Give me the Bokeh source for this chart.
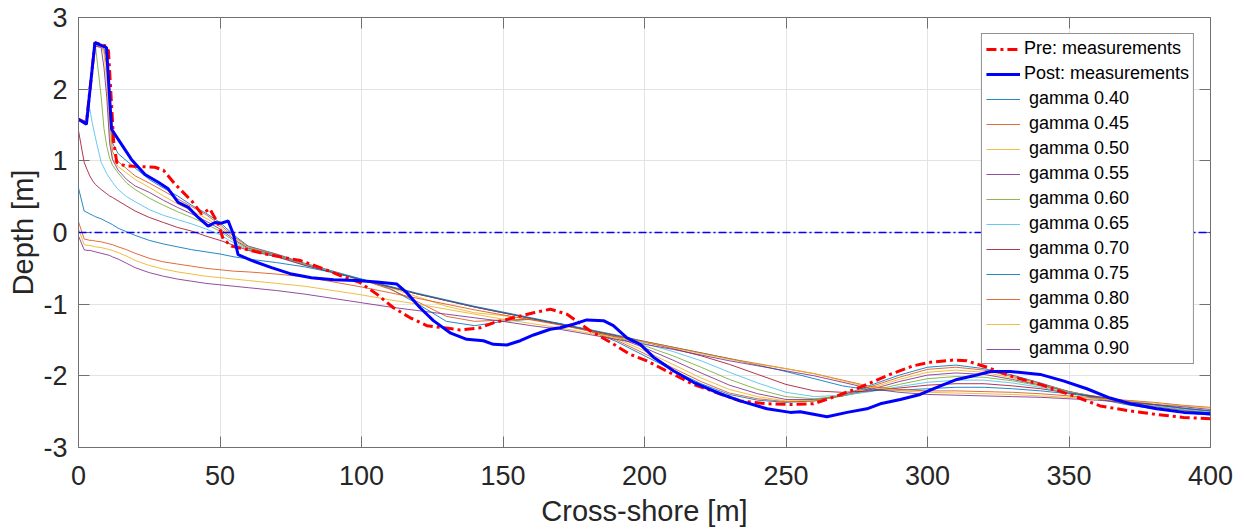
from bokeh.plotting import figure
from bokeh.models import Span, Legend, LegendItem, FixedTicker, LinearAxis, Range1d
from bokeh.embed import file_html
from bokeh.resources import INLINE

# ---------------- data ----------------
x_ticks = [0, 50, 100, 150, 200, 250, 300, 350, 400]
x_tick_labels = ["0", "50", "100", "150", "200", "250", "300", "350", "400"]
y_ticks = [-3, -2, -1, 0, 1, 2, 3]
y_tick_labels = ["-3", "-2", "-1", "0", "1", "2", "3"]

pre_x = [0, 2.8, 5.8, 9.9, 10.6, 12.4, 13.5, 16.4, 22, 27, 30, 34, 40, 43.5, 46.4, 49.4, 51.1, 54, 58.8, 65.9,
         78.3, 85.4, 92.5, 99.5, 105.4, 111.3, 117.2, 123.1, 129, 134.9, 141.9, 146.6, 153.7, 160.8, 166.7,
         172.6, 180.8, 187.9, 194.9, 200.8, 210.2, 217.3, 226.7, 233.8, 243.3, 251.5, 259.7, 268, 277.4, 286.8,
         295, 301, 309.2, 313.9, 321, 329.2, 339.8, 351.6, 361, 371.6, 381, 390.5, 400]
pre_y = [1.58, 1.53, 2.65, 2.6, 2.53, 1.28, 0.98, 0.93, 0.92, 0.91, 0.87, 0.68, 0.44, 0.26, 0.33, 0.12, -0.09, -0.19, -0.23, -0.30,
         -0.39, -0.49, -0.60, -0.70, -0.86, -1.05, -1.19, -1.30, -1.33, -1.36, -1.33, -1.26, -1.19, -1.12, -1.07,
         -1.14, -1.37, -1.53, -1.70, -1.79, -1.98, -2.12, -2.25, -2.35, -2.39, -2.40, -2.39, -2.28, -2.14, -1.98,
         -1.86, -1.81, -1.78, -1.79, -1.88, -2.0, -2.12, -2.28, -2.42, -2.49, -2.54, -2.58, -2.60]

post_x = [0, 2.8, 5.8, 8.7, 9.9, 11.7, 15.2, 18.7, 23.5, 28.2, 31.7, 35.2, 38.8, 42.3, 45.8, 48.2, 50.5, 52.9, 54.7, 56.4,
          61.1, 68.2, 75.3, 82.3, 90.1, 98.4, 105.4, 112.5, 116, 120.7, 125.4, 131.3, 137.2, 143.1, 146.6, 151.4,
          156.1, 160.8, 166.7, 170.2, 174.9, 179.6, 185.5, 189, 193.8, 198.5, 203.2, 210.2, 217.3, 226.7, 233.8,
          243.3, 251.5, 255, 264.5, 271.6, 278.6, 283.3, 290.4, 297.4, 303.3, 310.4, 316.3, 322.2, 329.2, 339.8,
          348, 356.3, 364.5, 371.6, 381, 390.5, 400]
post_y = [1.58, 1.51, 2.65, 2.60, 2.58, 1.44, 1.23, 1.02, 0.81, 0.70, 0.61, 0.42, 0.35, 0.21, 0.09, 0.14, 0.13, 0.16, -0.02, -0.31,
          -0.39, -0.49, -0.58, -0.63, -0.66, -0.67, -0.69, -0.72, -0.84, -1.05, -1.23, -1.40, -1.49, -1.51, -1.56, -1.57,
          -1.51, -1.43, -1.35, -1.33, -1.28, -1.22, -1.23, -1.30, -1.47, -1.56, -1.74, -1.93, -2.09, -2.25, -2.35,
          -2.46, -2.51, -2.50, -2.57, -2.51, -2.46, -2.39, -2.33, -2.26, -2.16, -2.05, -2.00, -1.94, -1.94, -1.98,
          -2.07, -2.18, -2.31, -2.39, -2.46, -2.51, -2.53]

x_model = [0, 2, 3, 4, 5, 6, 8, 9, 10, 11, 12, 14, 17, 20, 25, 30, 35, 40, 45, 50, 55, 60,
           70, 80, 90, 100, 110, 120, 130, 140, 150, 160, 170, 180, 190,
           200, 210, 220, 230, 240, 250, 260, 270, 280, 290, 300, 310, 320, 330, 340, 350, 360, 370, 380, 390, 400]

g040 = [1.58, 1.55, 1.53, 1.95, 2.35, 2.6, 2.6, 2.57, 2.45, 1.85, 1.25, 1.10, 1.00, 0.90, 0.74, 0.62, 0.51, 0.38, 0.27, 0.14, -0.04, -0.19,
        -0.30, -0.43, -0.54, -0.65, -0.78, -1.00, -1.24, -1.30, -1.24, -1.21, -1.27, -1.36, -1.52,
        -1.72, -1.92, -2.11, -2.26, -2.34, -2.37, -2.35, -2.27, -2.13, -1.99, -1.88, -1.85, -1.90, -1.99, -2.10, -2.22, -2.32, -2.40, -2.46, -2.51, -2.55]
g045 = [1.58, 1.55, 1.53, 1.95, 2.35, 2.6, 2.6, 2.55, 2.3, 1.6, 1.13, 0.99, 0.89, 0.79, 0.69, 0.58, 0.47, 0.36, 0.25, 0.11, -0.06, -0.20,
        -0.31, -0.44, -0.55, -0.66, -0.79, -0.97, -1.17, -1.24, -1.22, -1.21, -1.28, -1.37, -1.50,
        -1.69, -1.89, -2.08, -2.24, -2.32, -2.36, -2.35, -2.28, -2.15, -2.02, -1.91, -1.88, -1.92, -2.01, -2.11, -2.22, -2.31, -2.39, -2.45, -2.50, -2.54]
g050 = [1.58, 1.55, 1.53, 1.95, 2.35, 2.6, 2.6, 2.5, 2.1, 1.4, 1.03, 0.92, 0.83, 0.74, 0.63, 0.51, 0.40, 0.30, 0.20, 0.08, -0.08, -0.21,
        -0.32, -0.44, -0.55, -0.66, -0.77, -0.90, -1.03, -1.12, -1.16, -1.21, -1.28, -1.36, -1.48,
        -1.65, -1.84, -2.03, -2.19, -2.29, -2.35, -2.34, -2.28, -2.17, -2.05, -1.95, -1.92, -1.95, -2.03, -2.12, -2.22, -2.30, -2.38, -2.44, -2.49, -2.53]
g055 = [1.58, 1.55, 1.53, 1.95, 2.35, 2.6, 2.58, 2.3, 1.88, 1.25, 1.02, 0.87, 0.74, 0.65, 0.56, 0.45, 0.35, 0.26, 0.16, 0.05, -0.10, -0.22,
        -0.32, -0.45, -0.55, -0.66, -0.76, -0.86, -0.95, -1.04, -1.12, -1.20, -1.28, -1.36, -1.46,
        -1.61, -1.78, -1.96, -2.13, -2.25, -2.33, -2.33, -2.28, -2.19, -2.08, -1.99, -1.96, -1.98, -2.05, -2.13, -2.22, -2.30, -2.37, -2.43, -2.48, -2.52]
g060 = [1.58, 1.55, 1.53, 1.95, 2.35, 2.6, 1.9, 1.45, 1.2, 1.04, 0.94, 0.83, 0.69, 0.60, 0.48, 0.38, 0.29, 0.21, 0.12, 0.02, -0.12, -0.23,
        -0.33, -0.45, -0.55, -0.66, -0.76, -0.86, -0.95, -1.04, -1.12, -1.20, -1.28, -1.36, -1.45,
        -1.58, -1.72, -1.88, -2.05, -2.19, -2.29, -2.32, -2.28, -2.21, -2.12, -2.04, -2.01, -2.02, -2.07, -2.14, -2.22, -2.29, -2.36, -2.42, -2.47, -2.51]
g065 = [1.58, 1.55, 1.62, 1.72, 1.50, 1.32, 0.98, 0.90, 0.82, 0.76, 0.70, 0.60, 0.50, 0.43, 0.32, 0.24, 0.18, 0.12, 0.05, -0.03, -0.15, -0.24,
        -0.33, -0.45, -0.55, -0.66, -0.76, -0.86, -0.95, -1.04, -1.12, -1.20, -1.28, -1.36, -1.44,
        -1.55, -1.66, -1.79, -1.95, -2.10, -2.23, -2.29, -2.27, -2.22, -2.15, -2.09, -2.06, -2.06, -2.10, -2.16, -2.23, -2.29, -2.35, -2.41, -2.46, -2.50]
g070 = [1.42, 0.98, 0.88, 0.79, 0.72, 0.67, 0.60, 0.57, 0.54, 0.51, 0.49, 0.44, 0.37, 0.30, 0.21, 0.14, 0.07, 0.02, -0.05, -0.11, -0.18, -0.25,
        -0.34, -0.46, -0.56, -0.66, -0.76, -0.86, -0.95, -1.04, -1.12, -1.20, -1.28, -1.36, -1.44,
        -1.53, -1.62, -1.72, -1.84, -1.98, -2.12, -2.21, -2.23, -2.21, -2.17, -2.13, -2.11, -2.11, -2.14, -2.18, -2.24, -2.29, -2.35, -2.40, -2.45, -2.49]
g075 = [0.62, 0.30, 0.28, 0.26, 0.24, 0.22, 0.19, 0.17, 0.15, 0.13, 0.11, 0.06, 0.01, -0.04, -0.11, -0.16, -0.20, -0.24, -0.27, -0.30, -0.34, -0.37,
        -0.42, -0.48, -0.56, -0.65, -0.75, -0.85, -0.94, -1.03, -1.11, -1.19, -1.27, -1.35, -1.43,
        -1.52, -1.60, -1.68, -1.76, -1.85, -1.94, -2.04, -2.14, -2.20, -2.20, -2.18, -2.16, -2.16, -2.18, -2.21, -2.25, -2.30, -2.35, -2.40, -2.45, -2.49]
g080 = [0.15, -0.09, -0.10, -0.11, -0.11, -0.12, -0.13, -0.14, -0.15, -0.16, -0.17, -0.20, -0.24, -0.29, -0.36, -0.41, -0.44, -0.47, -0.50, -0.52, -0.54, -0.55,
        -0.58, -0.62, -0.69, -0.76, -0.84, -0.92, -1.00, -1.08, -1.15, -1.22, -1.29, -1.37, -1.45,
        -1.52, -1.60, -1.68, -1.76, -1.83, -1.90, -1.97, -2.06, -2.15, -2.19, -2.21, -2.21, -2.22, -2.23, -2.25, -2.28, -2.31, -2.34, -2.37, -2.41, -2.44]
g085 = [0.05, -0.17, -0.18, -0.18, -0.19, -0.20, -0.21, -0.22, -0.23, -0.24, -0.25, -0.28, -0.33, -0.39, -0.46, -0.51, -0.55, -0.58, -0.61, -0.63, -0.65, -0.67,
        -0.71, -0.75, -0.81, -0.87, -0.94, -1.00, -1.07, -1.14, -1.21, -1.27, -1.33, -1.40, -1.47,
        -1.53, -1.61, -1.69, -1.77, -1.84, -1.90, -1.97, -2.07, -2.16, -2.21, -2.23, -2.24, -2.25, -2.26, -2.28, -2.30, -2.32, -2.35, -2.38, -2.42, -2.45]
g090 = [-0.05, -0.24, -0.25, -0.25, -0.26, -0.27, -0.29, -0.30, -0.31, -0.32, -0.34, -0.37, -0.43, -0.49, -0.56, -0.61, -0.65, -0.68, -0.71, -0.73, -0.75, -0.77,
        -0.81, -0.86, -0.92, -0.98, -1.04, -1.09, -1.14, -1.19, -1.24, -1.30, -1.35, -1.42, -1.49,
        -1.56, -1.63, -1.71, -1.79, -1.86, -1.93, -2.00, -2.09, -2.18, -2.23, -2.26, -2.27, -2.28, -2.29, -2.30, -2.32, -2.34, -2.37, -2.40, -2.43, -2.47]

model_labels = ["gamma 0.40", "gamma 0.45", "gamma 0.50", "gamma 0.55", "gamma 0.60", "gamma 0.65",
                "gamma 0.70", "gamma 0.75", "gamma 0.80", "gamma 0.85", "gamma 0.90"]
model_series = [g040, g045, g050, g055, g060, g065, g070, g075, g080, g085, g090]

# ---------------- styling ----------------
FONT = "Liberation Sans"
TXT = "#262626"
AX = "#707070"
matlab = ["#0072BD", "#D95319", "#EDB120", "#7E2F8E", "#77AC30", "#4DBEEE", "#A2142F"]

p = figure(width=1244, height=531, x_range=Range1d(0, 400), y_range=Range1d(-3, 3),
           output_backend="svg", toolbar_location=None,
           min_border_left=78, min_border_right=34, min_border_top=17, min_border_bottom=84)
p.background_fill_color = "white"
p.border_fill_color = "white"
p.outline_line_color = AX
p.outline_line_width = 1

model_renderers = []
for i, ys in enumerate(model_series):
    r = p.line(x_model, ys, line_color=matlab[i % 7], line_width=1, line_alpha=0.85)
    model_renderers.append(r)

zero = Span(location=0, dimension="width", line_color="#0000FF", line_width=1.5, line_dash="8 3 2 3")
p.add_layout(zero)

r_pre = p.line(pre_x, pre_y, line_color="#FF0000", line_width=3, line_dash="10 4 3 4")
r_post = p.line(post_x, post_y, line_color="#0000FF", line_width=3)

# axes
for ax, ticks, labels in ((p.xaxis[0], x_ticks, x_tick_labels), (p.yaxis[0], y_ticks, y_tick_labels)):
    ax.ticker = FixedTicker(ticks=ticks)
    ax.major_label_overrides = {t: l for t, l in zip(ticks, labels)}
    ax.axis_line_color = AX
    ax.major_tick_line_color = AX
    ax.major_tick_in = 11
    ax.major_tick_out = 0
    ax.minor_tick_line_color = None
    ax.major_label_text_font = FONT
    ax.major_label_text_font_size = "27px"
    ax.major_label_text_color = TXT
    ax.major_label_text_line_height = 1.0
    ax.axis_label_text_font = FONT
    ax.axis_label_text_font_size = "29px"
    ax.axis_label_text_font_style = "normal"
    ax.axis_label_text_color = TXT
    ax.axis_label_text_line_height = 1.0

p.xaxis[0].axis_label = "Cross-shore [m]"
p.yaxis[0].axis_label = "Depth [m]"
p.xaxis[0].major_label_standoff = 18
p.xaxis[0].axis_label_standoff = 7
p.yaxis[0].major_label_standoff = 11
p.yaxis[0].axis_label_standoff = 1

ax_r = LinearAxis(ticker=FixedTicker(ticks=y_ticks), major_label_text_font_size="1px",
                  major_label_text_color=None,
                  major_tick_in=11, major_tick_out=0, minor_tick_line_color=None,
                  axis_line_color=None, major_tick_line_color=AX, major_label_standoff=0)
p.add_layout(ax_r, "right")
ax_t = LinearAxis(ticker=FixedTicker(ticks=x_ticks), major_label_text_font_size="1px",
                  major_label_text_color=None,
                  major_tick_in=11, major_tick_out=0, minor_tick_line_color=None,
                  axis_line_color=None, major_tick_line_color=AX, major_label_standoff=0)
p.add_layout(ax_t, "above")

p.xgrid.ticker = FixedTicker(ticks=x_ticks)
p.ygrid.ticker = FixedTicker(ticks=y_ticks)
p.xgrid.grid_line_color = "#E3E3E3"
p.ygrid.grid_line_color = "#E3E3E3"

items = [LegendItem(label="Pre: measurements", renderers=[r_pre]),
         LegendItem(label="Post: measurements", renderers=[r_post])]
for lab, r in zip(model_labels, model_renderers):
    items.append(LegendItem(label="\u00a0" + lab, renderers=[r]))

legend = Legend(items=items, location="top_right", margin=16, padding=4, spacing=4,
                label_text_font=FONT, label_text_font_size="18px", label_text_color="#000000",
                glyph_width=34, glyph_height=20, label_height=20, label_standoff=4,
                border_line_color="#262626", border_line_width=1, background_fill_alpha=1.0)
p.add_layout(legend)

open("out.html", "w").write(file_html(p, INLINE))
